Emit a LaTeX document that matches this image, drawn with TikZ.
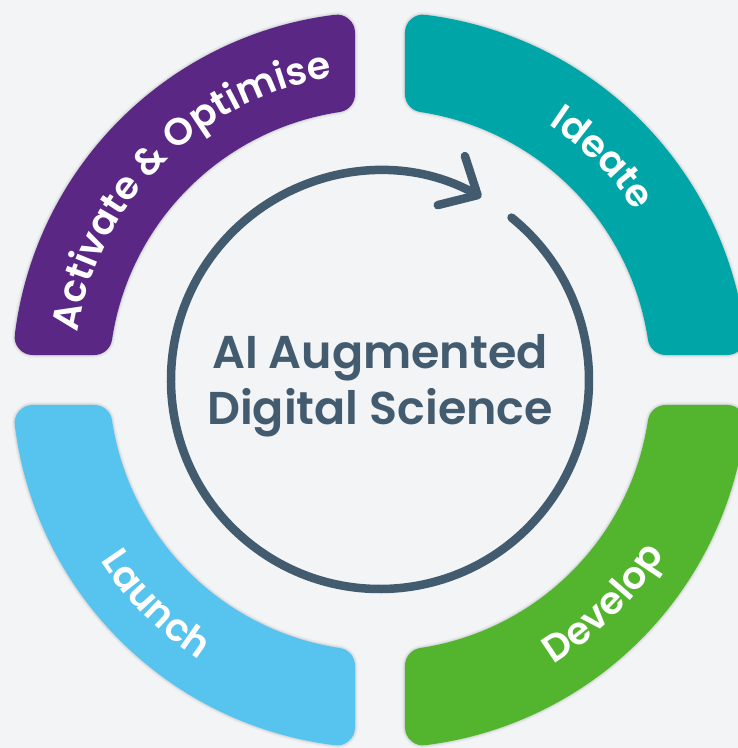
\documentclass[tikz,border=0pt]{standalone}
\usepackage{fontspec}
\newfontfamily\labelfont{Poppins}[BoldFont={Poppins SemiBold}]
\usetikzlibrary{arrows.meta,decorations.text}

\definecolor{bgcol}{HTML}{F2F4F6}
\definecolor{purplecol}{HTML}{5B2785}
\definecolor{tealcol}{HTML}{00A6A7}
\definecolor{greencol}{HTML}{52B52D}
\definecolor{bluecol}{HTML}{57C3EF}
\definecolor{slatecol}{HTML}{435B6E}

% one quarter of the ring, shrunk by the corner radius (18pt)
\newcommand\piecepath{({90+asin(43/350)}:350pt)
  arc[start angle={90+asin(43/350)}, end angle={180-asin(43/350)}, radius=350pt]
  -- ({180-asin(43/289)}:289pt)
  arc[start angle={180-asin(43/289)}, end angle={90+asin(43/289)}, radius=289pt]
  -- cycle}

\begin{document}
\begin{tikzpicture}[
  piece/.style={line width=36pt,line join=round},
  halo/.style={draw=black,line join=round},
  ring/.style={draw=slatecol,line width=8.5pt,line cap=round,
    -{Straight Barb[length=30pt,width=56pt,round]}},
  title/.style={align=center,text=slatecol,
    font=\labelfont\bfseries\fontsize{46}{56}\selectfont}]

  \useasboundingbox (-380pt,-368pt) rectangle (358pt,380pt);
  \clip (-380pt,-368pt) rectangle (358pt,380pt);
  \fill[bgcol] (-380pt,-368pt) rectangle (358pt,380pt);

  % the four quarters
  \foreach \rot/\col in {0/purplecol,-90/tealcol,-180/greencol,90/bluecol}
  {
    \begin{scope}[rotate=\rot]
      \foreach \w/\op in {42/0.025,40/0.035,38/0.05}
        \path[halo,line width=\w pt,opacity=\op] \piecepath;
      \path[piece,fill=\col,draw=\col] \piecepath;
    \end{scope}
  }

  % labels along the quarters
  \path[decorate,decoration={text along path,text align=center,text color=white,
    text={|\labelfont\bfseries\fontsize{38}{38}\selectfont|Activate {\&} Optimise}}]
    (180:306pt) arc[start angle=180,end angle=90,radius=306pt];
  \path[decorate,decoration={text along path,text align=center,text color=white,
    text={|\labelfont\bfseries\fontsize{38}{38}\selectfont|Ideate}}]
    (90:306pt) arc[start angle=90,end angle=0,radius=306pt];
  \path[decorate,decoration={text along path,text align=center,text color=white,
    text={|\labelfont\bfseries\fontsize{38}{38}\selectfont|Develop}}]
    (-90:333pt) arc[start angle=-90,end angle=0,radius=333pt];
  \path[decorate,decoration={text along path,text align=center,text color=white,
    text={|\labelfont\bfseries\fontsize{38}{38}\selectfont|Launch}}]
    (180:333pt) arc[start angle=180,end angle=270,radius=333pt];

  % inner cycle
  \draw[ring] (51:209pt) arc[start angle=51,end angle=-299,radius=209pt];
  \node[title] (title) at (0pt,-6pt) {AI Augmented\\Digital Science};

\end{tikzpicture}
\end{document}
